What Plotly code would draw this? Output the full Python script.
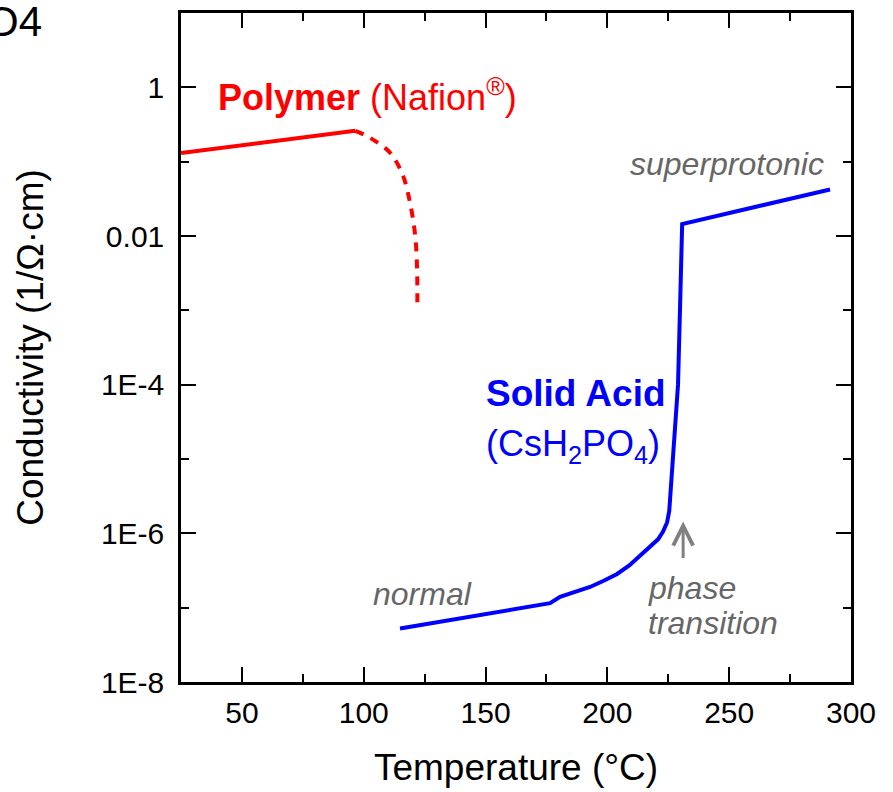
import plotly.graph_objects as go

# ---- data ----
nafion_solid_T = [25, 96.5]
nafion_solid_S = [0.131, 0.26]
nafion_dash_T = [96.5, 102.6, 110.8, 116.1, 119.0, 121.1, 121.9, 122.0]
nafion_dash_S = [0.26, 0.209, 0.132, 0.065, 0.028, 0.0103, 0.0036, 0.00107]

csp_T = [114.9, 176.5, 180.6, 186.5, 192.9, 198.5, 204.0, 209.0, 213.4, 217.5, 220.8, 222.8, 224.5, 225.4, 225.7, 227.0, 229.0, 229.8, 230.3, 230.7, 291.4]
csp_S = [5.25e-8, 1.15e-7, 1.4e-7, 1.62e-7, 1.9e-7, 2.3e-7, 2.84e-7, 3.7e-7, 4.93e-7, 6.5e-7, 8.3e-7, 1.05e-6, 1.4e-6, 2.0e-6, 2.84e-6, 1e-5, 1e-4, 1e-3, 1e-2, 1.45e-2, 4.23e-2]

x_ticks = [50, 100, 150, 200, 250, 300]
x_minor = [75, 125, 175, 225, 275]
y_ticks = [1e-8, 1e-6, 1e-4, 1e-2, 1]
y_ticktext = ["1E-8", "1E-6", "1E-4", "0.01", "1"]
y_minor = [1e-7, 1e-5, 1e-3, 1e-1]

FONT = "Liberation Sans, Arial, sans-serif"
RED = "#ff0000"
BLUE = "#0000ff"
GRAY = "#666666"

fig = go.Figure()
fig.add_trace(go.Scatter(x=nafion_solid_T, y=nafion_solid_S, mode="lines",
                         line=dict(color=RED, width=4), showlegend=False))
fig.add_trace(go.Scatter(x=nafion_dash_T, y=nafion_dash_S, mode="lines",
                         line=dict(color=RED, width=4, dash="9px,8px", shape="spline"),
                         showlegend=False))
fig.add_trace(go.Scatter(x=csp_T, y=csp_S, mode="lines",
                         line=dict(color=BLUE, width=4), showlegend=False))

axis_common = dict(showline=True, linecolor="black", linewidth=2.5, mirror="ticks",
                   ticks="inside", ticklen=15, tickwidth=2, tickcolor="black",
                   showgrid=False, zeroline=False,
                   tickfont=dict(family=FONT, size=30, color="black"))

fig.update_xaxes(range=[25, 300], tickvals=x_ticks,
                 minor=dict(tickvals=x_minor, ticks="inside", ticklen=8, tickwidth=2, tickcolor="black"),
                 title=dict(text="Temperature (°C)", font=dict(family=FONT, size=37, color="black"), standoff=27),
                 ticklabelstandoff=2,
                 **axis_common)
fig.update_yaxes(type="log", range=[-8, 1], tickvals=y_ticks, ticktext=y_ticktext,
                 minor=dict(tickvals=y_minor, ticks="inside", ticklen=8, tickwidth=2, tickcolor="black"),
                 title=dict(text="Conductivity (1/Ω·cm)", font=dict(family=FONT, size=37, color="black"), standoff=46),
                 ticklabelstandoff=8,
                 **axis_common)

ann = []
ann.append(dict(x=39.5, y=-0.1, xref="x", yref="y", xanchor="left", yanchor="middle", showarrow=False,
                text="<b>Polymer</b> (Nafion<sup>®</sup>)", font=dict(family=FONT, size=36, color=RED)))
ann.append(dict(x=208.5, y=-1.03, xref="x", yref="y", xanchor="left", yanchor="middle", showarrow=False,
                text="<i>superprotonic</i>", font=dict(family=FONT, size=32, color=GRAY)))
ann.append(dict(x=149.5, y=-4.12, xref="x", yref="y", xanchor="left", yanchor="middle", showarrow=False,
                text="<b>Solid Acid</b>", font=dict(family=FONT, size=37, color=BLUE)))
ann.append(dict(x=149.5, y=-4.82, xref="x", yref="y", xanchor="left", yanchor="middle", showarrow=False,
                text="(CsH<sub>2</sub>PO<sub>4</sub>)", font=dict(family=FONT, size=36, color=BLUE)))
ann.append(dict(x=103.0, y=-6.81, xref="x", yref="y", xanchor="left", yanchor="middle", showarrow=False,
                text="<i>normal</i>", font=dict(family=FONT, size=32, color=GRAY)))
ann.append(dict(x=215.8, y=-6.73, xref="x", yref="y", xanchor="left", yanchor="middle", showarrow=False,
                text="<i>phase</i>", font=dict(family=FONT, size=32, color=GRAY)))
ann.append(dict(x=215.8, y=-7.21, xref="x", yref="y", xanchor="left", yanchor="middle", showarrow=False,
                text="<i>transition</i>", font=dict(family=FONT, size=32, color=GRAY)))
ann.append(dict(x=231.1, y=-5.84, xref="x", yref="y", ax=0, ay=38, showarrow=True,
                arrowhead=5, arrowsize=1.3, arrowwidth=3, arrowcolor="#808080", text=""))
ann.append(dict(x=(44 - 181) / 670, y=(683 - 19) / 673, xref="paper", yref="paper",
                xanchor="right", yanchor="middle", showarrow=False,
                text="O4", font=dict(family=FONT, size=42, color="black")))

fig.update_layout(width=893, height=792, margin=dict(l=181, r=42, t=10, b=109),
                  paper_bgcolor="white", plot_bgcolor="white", annotations=ann)

fig.write_html("out.html")
